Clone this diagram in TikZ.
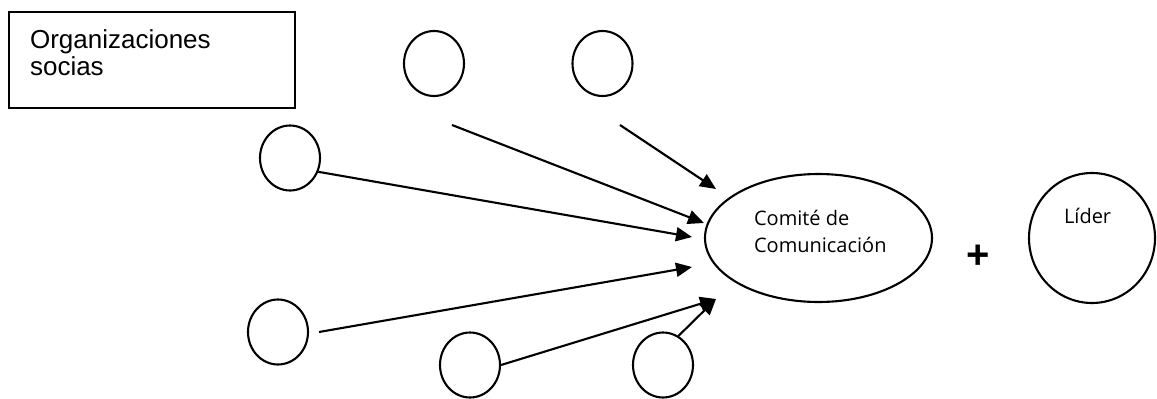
\documentclass[tikz,border=0pt]{standalone}
\usepackage{fontspec}
\setmainfont{Liberation Sans}
\newfontfamily\comicfont{Open Sans}
\usetikzlibrary{shapes.geometric,arrows.meta}
\begin{document}
\begin{tikzpicture}[x=1pt,y=-1pt,line width=2.1pt,
  ring/.style={draw, ellipse, inner sep=0pt, minimum width=60pt, minimum height=65pt},
  link/.style={-{Triangle[length=16pt,width=14pt]}},
  boxtext/.style={font=\fontsize{26}{30}\selectfont, anchor=base west, inner sep=0pt},
  comic/.style={font=\comicfont\fontsize{20}{24}\selectfont, anchor=base west, inner sep=0pt}]
\useasboundingbox (0,0) rectangle (1157,399);
% box
\node[draw, minimum width=286pt, minimum height=96pt, inner sep=0pt] (org) at (152,60) {};
\node[boxtext] (orgA) at (29,48) {Organizaciones};
\node[boxtext] (orgB) at (29,75) {socias};
% small circles
\node[ring] (t1) at (434,63.5) {};
\node[ring] (t2) at (602.5,63.5) {};
\node[ring] (l1) at (290,158) {};
\node[ring] (l2) at (278,332) {};
\node[ring] (b1) at (470,365) {};
\node[ring] (b2) at (663,365) {};
% main ellipse
\node[draw, ellipse, inner sep=0pt, minimum width=227pt, minimum height=128pt] (comite) at (818.5,238) {};
\node[comic] (comA) at (753,225) {Comité de};
\node[comic] (comB) at (753,252.5) {Comunicación};
% leader
\node[draw, ellipse, inner sep=0pt, minimum width=126pt, minimum height=130pt] (lider) at (1092,238) {};
\node[comic] (liderT) at (1063,223) {Líder};
\node[font=\bfseries\fontsize{40}{40}\selectfont, inner sep=0pt] (plus) at (978.5,257) {+};
% connector ends
\coordinate (s1) at (452,125);
\coordinate (s2) at (620,125);
\coordinate (s4) at (319,332);
\coordinate (e1) at (716,189);
\coordinate (e2) at (704,223);
\coordinate (e3) at (692,237);
\coordinate (e4) at (692,267);
\coordinate (e5) at (716,299);
\draw[link] (s2) -- (e1);
\draw[link] (s1) -- (e2);
\draw[link] (l1.-26) -- (e3);
\draw[link] (s4) -- (e4);
\draw[link] (b1.east) -- (e5);
\draw[link] (b2.62) -- (e5);
\end{tikzpicture}
\end{document}
